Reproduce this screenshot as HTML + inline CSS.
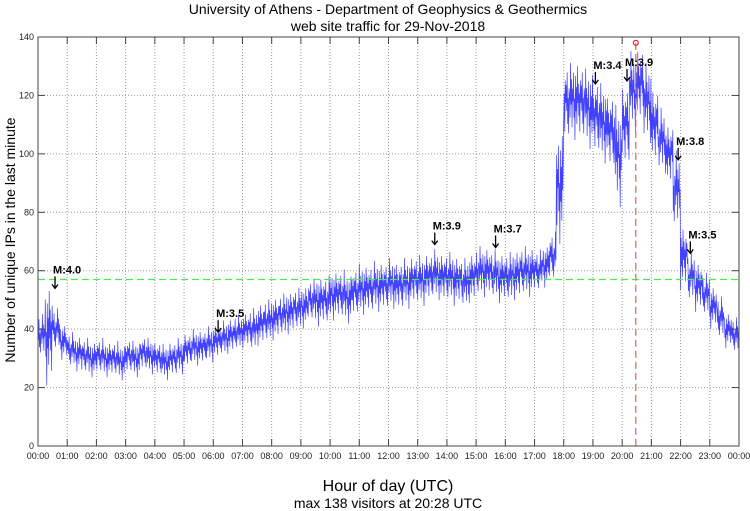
<!DOCTYPE html>
<html><head><meta charset="utf-8"><style>
body{margin:0;background:#fff;}
svg{display:block;font-family:"Liberation Sans",sans-serif;}
</style></head><body>
<svg id="c" width="750" height="511"></svg>
<script>
const hours=["00:00","01:00","02:00","03:00","04:00","05:00","06:00","07:00","08:00","09:00","10:00","11:00","12:00","13:00","14:00","15:00","16:00","17:00","18:00","19:00","20:00","21:00","22:00","23:00","00:00"];
const yTicks=[0,20,40,60,80,100,120,140];
// visitors, 15-minute means
const visitors=[38,39,40,36,33,32,31,30,31,30,30,29,31,30,32,31,30,29,30,31,33,34,34,35,36,37,38,39,40,40,42,43,44,45,46,47,48,50,50,50,52,52,51,53,54,54,55,55,56,55,56,57,57,58,59,58,58,57,56,58,60,60,59,58,58,59,60,60,60,62,65,90,118,119,118,116,113,111,108,100,110,122,124,118,110,105,100,88,65,58,55,52,48,44,40,38];
// spread of minute noise per 15 minutes
const spread=[6,14,6,5,5,5,5,5,5,5,5,5,5,5,5,5,5,5,5,5,5,5,5,5,5,5,5,5,5,6,6,6,6,6,6,6,6,6,7,7,7,7,7,7,7,7,7,7,7,7,7,7,7,7,7,7,7,7,7,7,7,7,7,7,7,7,7,7,6,6,7,16,11,11,11,11,11,11,11,14,12,11,11,11,11,9,9,11,9,7,7,6,6,6,5,5];
const avgLine=57;
const maxVal=138, maxMin=20*60+28;
const quakes=[{m:"M:4.0",t:35,y:56},{m:"M:3.5",t:370,y:41},{m:"M:3.9",t:815,y:71},{m:"M:3.7",t:940,y:70},{m:"M:3.4",t:1145,y:126},{m:"M:3.9",t:1210,y:127},{m:"M:3.8",t:1315,y:100},{m:"M:3.5",t:1340,y:68}];

const L=38,R=739,T=37,B=446;
const X=m=>L+(R-L)*m/1440;
const Y=v=>B-(B-T)*v/140;
const svg=document.getElementById('c');
const NS="http://www.w3.org/2000/svg";
function mk(tag,a,parent){const e=document.createElementNS(NS,tag);for(const k in a)e.setAttribute(k,a[k]);(parent||svg).appendChild(e);return e;}
for(let i=1;i<24;i++){const g=mk('line',{x1:X(i*60),x2:X(i*60),y1:T,y2:B,stroke:'#999','stroke-dasharray':'1,2','stroke-width':1});
}
yTicks.forEach(v=>{if(v>0){const g=mk('line',{x1:L,x2:R,y1:Y(v),y2:Y(v),stroke:'#999','stroke-dasharray':'1,2','stroke-width':1});
}});
// rendering texture for minute-level jitter
const pat=[0.5,-0.3,0.9,-0.7,0.1,-1,0.4,0.2,-0.5,1.2,-0.2,0.6,-0.9,0.3,-0.1,0.8,-0.6,0.0,-1.3,0.7,-0.4,0.35,-0.8,1.0,-0.15,0.55,-0.45,0.25,-0.95,0.65,-0.05];
let pts=[];
visitors.forEach((v,i)=>{for(let k=0;k<15;k++){const m=i*15+k;pts.push(X(m).toFixed(2)+','+Y(Math.max(15,v+spread[i]*pat[m%pat.length])).toFixed(2));}});
const sp=mk('polyline',{points:pts.join(' '),fill:'none',stroke:'#2020ff','stroke-width':0.7,'stroke-opacity':0.85});

const ag=mk('line',{x1:L,x2:R,y1:Y(avgLine),y2:Y(avgLine),stroke:'#44ee44','stroke-dasharray':'7,4','stroke-width':1.3});

const mv=mk('line',{x1:X(maxMin),x2:X(maxMin),y1:Y(maxVal),y2:B,stroke:'#ee6666','stroke-dasharray':'7,4','stroke-width':1.3});

const mc=mk('circle',{cx:X(maxMin),cy:Y(maxVal),r:2.5,fill:'none',stroke:'#ee2222','stroke-width':1.2});

quakes.forEach(q=>{const x=X(q.t),y=Y(q.y)+6;
const a=mk('path',{d:`M${x},${y-12} L${x},${y} M${x-3},${y-4} L${x},${y} L${x+3},${y-4}`,stroke:'#000','stroke-width':1.3,fill:'none'});

const t=mk('text',{x:x-2,y:y-15,'font-size':11,'font-weight':'bold',fill:'#000'});t.textContent=q.m;
});
const fr=mk('rect',{x:L,y:T,width:R-L,height:B-T,fill:'none',stroke:'#444','stroke-width':1});

hours.forEach((h,i)=>{const x=X(i*60);
mk('line',{x1:x,x2:x,y1:B,y2:B-7,stroke:'#444'});mk('line',{x1:x,x2:x,y1:T,y2:T+7,stroke:'#444'});
const t=mk('text',{x:x,y:B+13,'font-size':9,'text-anchor':'middle',fill:'#222'});t.textContent=h;
});
yTicks.forEach(v=>{const y=Y(v);
mk('line',{x1:L,x2:L+7,y1:y,y2:y,stroke:'#444'});mk('line',{x1:R,x2:R-7,y1:y,y2:y,stroke:'#444'});
const t=mk('text',{x:L-4,y:y+3,'font-size':9,'text-anchor':'end',fill:'#222'});t.textContent=v;
});
</script>
<div style="position:absolute;left:0;top:0;width:750px;height:511px;pointer-events:none;font-family:'Liberation Sans',sans-serif;">
<div style="position:absolute;left:0;width:776px;top:1px;text-align:center;font-size:14px;line-height:17px;color:#000;">University of Athens - Department of Geophysics &amp; Geothermics<br>web site traffic for 29-Nov-2018</div>
<div style="position:absolute;left:-150px;top:232px;width:320px;text-align:center;font-size:14px;white-space:nowrap;transform:rotate(-90deg);">Number of unique IPs in the last minute</div>
<div style="position:absolute;left:0;width:776px;top:478px;text-align:center;font-size:16px;">Hour of day (UTC)</div>
<div style="position:absolute;left:0;width:776px;top:495px;text-align:center;font-size:14px;">max 138 visitors at 20:28 UTC</div>
</div>
</body></html>
